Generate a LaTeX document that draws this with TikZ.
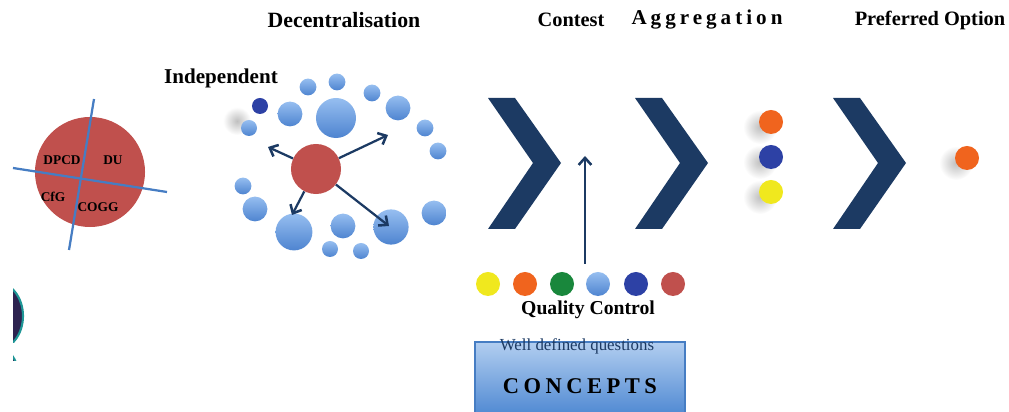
\documentclass[tikz,border=0pt]{standalone}
\usepackage{fontspec}
\setmainfont{Liberation Serif}
\newfontfamily\spacedfont[LetterSpace=19]{Liberation Serif}
\newfontfamily\conceptfont[LetterSpace=20]{Liberation Serif}
\usepackage{xcolor}
\usetikzlibrary{positioning, arrows.meta}
\definecolor{navy}{RGB}{28,58,99}
\definecolor{redball}{RGB}{192,80,77}
\definecolor{bluetop}{RGB}{150,190,240}
\definecolor{bluebot}{RGB}{78,132,208}
\definecolor{darkdot}{RGB}{45,65,165}
\definecolor{orangedot}{RGB}{240,100,30}
\definecolor{yellowdot}{RGB}{240,232,30}
\definecolor{greendot}{RGB}{25,135,60}
\definecolor{axisblue}{RGB}{70,125,195}
\definecolor{boxtop}{RGB}{178,206,240}
\definecolor{boxbot}{RGB}{78,136,210}
\definecolor{fragdark}{RGB}{45,35,80}
\definecolor{fragedge}{RGB}{30,150,150}
\tikzset{
    heading/.style={font=\fontsize{15}{18}\selectfont\bfseries, text=black, inner sep=0pt},
    quarter/.style={font=\fontsize{9.5}{11}\selectfont\bfseries, inner sep=0pt},
    bubble/.style={circle, inner sep=0pt, minimum size=#1, top color=bluetop, bottom color=bluebot, draw=none},
    dot/.style={circle, inner sep=0pt, minimum size=0.6cm, fill=#1, draw=none},
    softshadow/.style={circle, inner sep=0pt, minimum size=#1, inner color=gray!50, outer color=white},
    flow/.style={->, >={Straight Barb[length=5pt, width=9pt, line width=1.8pt]}, color=navy, line width=1.6pt},
    chevron/.style={fill=navy, draw=none},
    axis/.style={axisblue, line width=1.6pt}
}

\begin{document}
\begin{tikzpicture}[x=0.025cm, y=-0.025cm]
    \useasboundingbox (0,0) rectangle (1009,412);

    % Headings
    \node[heading, font=\fontsize{15.5}{18}\selectfont\bfseries] (hdecent) at (344,20) {Decentralisation};
    \node[heading, font=\fontsize{14.5}{17}\selectfont\bfseries] (hcontest) at (571,20) {Contest};
    \node[heading] (haggr) at (707,20) {\spacedfont\bfseries Aggregation};
    \node[heading, font=\fontsize{14.5}{17}\selectfont\bfseries] (hpref) at (930,20) {Preferred Option};

    % Left edge fragment
    \begin{scope}
        \clip (13,286) rectangle (40,343);
        \fill[fragdark, draw=fragedge, line width=1.5pt] (-4,316) ellipse [x radius=27, y radius=34];
    \end{scope}
    \begin{scope}
        \clip (13,346) rectangle (40,361);
        \fill[fragdark, draw=fragedge, line width=1.5pt] (-2,374) ellipse [x radius=20, y radius=26];
    \end{scope}

    % Council circle
    \node[circle, fill=redball, minimum size=2.75cm, inner sep=0pt] (council) at (90,172) {};
    \draw[axis] (13,168) -- (167,192);
    \draw[axis] (94,99) -- (69,250);
    \node[quarter] (dpcd) at (62,160) {DPCD};
    \node[quarter] (du) at (113,160) {DU};
    \node[quarter] (cfg) at (53,197) {CfG};
    \node[quarter] (cogg) at (98,207) {COGG};

    % Decentralisation cluster
    \node[heading] (indep) at (221,78) {Independent};
    \node[softshadow=0.7cm] (blur) at (237,121) {};
    \node[dot=darkdot, minimum size=0.4cm] (seed) at (260,106) {};
    \foreach \x/\y/\d [count=\i] in {308/87/0.42, 337/82/0.42, 372/93/0.42, 290/114/0.62,
        336/118/1.0, 398/108/0.62, 249/128/0.4, 425/128/0.42, 438/151/0.42, 243/186/0.42,
        255/209/0.62, 294/232/0.92, 343/226/0.62, 391/227/0.88, 434/213/0.62, 330/249/0.4, 361/251/0.4}
        \node[bubble=\d cm] (b\i) at (\x,\y) {};
    \node[circle, fill=redball, minimum size=1.25cm, inner sep=0pt] (hub) at (316,169) {};
    \coordinate (tipnw) at (268,147);
    \coordinate (tipne) at (388,135);
    \coordinate (tipsw) at (292,215);
    \coordinate (tipse) at (389,226);
    \draw[flow] (hub) -- (tipnw);
    \draw[flow] (hub) -- (tipne);
    \draw[flow] (hub) -- (tipsw);
    \draw[flow] (hub) -- (tipse);

    % Chevrons
    \foreach \dx in {0,147,345}
        \fill[chevron] (488+\dx,98) -- (515+\dx,98) -- (561+\dx,163) -- (515+\dx,229)
            -- (488+\dx,229) -- (533+\dx,163) -- cycle;

    % Quality control
    \coordinate (qcbase) at (585,264);
    \coordinate (qctip) at (585,156);
    \draw[flow] (qcbase) -- (qctip);
    \node[dot=yellowdot] (qyellow) at (488,284) {};
    \node[dot=orangedot] (qorange) at (525,284) {};
    \node[dot=greendot] (qgreen) at (562,284) {};
    \node[bubble=0.6cm] (qlight) at (598,284) {};
    \node[dot=darkdot] (qblue) at (636,284) {};
    \node[dot=redball] (qred) at (673,284) {};
    \node[heading, font=\fontsize{14}{16}\selectfont\bfseries] (qc) at (588,310) {Quality Control};

    % Concepts box
    \node[draw=axisblue, thick, top color=boxtop, bottom color=boxbot, minimum width=5.25cm,
        minimum height=1.85cm, inner sep=0pt] (concepts) at (580,379) {};
    \node[font=\fontsize{12}{14}\selectfont, text=navy, inner sep=0pt] (welldef) at (577,346) {Well defined questions};
    \node[font=\fontsize{16}{18}\selectfont\conceptfont\bfseries, inner sep=0pt] (ctext) at (580,386) {CONCEPTS};

    % Aggregation
    \node[softshadow=0.85cm] (shorange) at (760,127) {};
    \node[softshadow=0.85cm] (shblue) at (760,162) {};
    \node[softshadow=0.85cm] (shyellow) at (760,197) {};
    \node[dot=orangedot] (aorange) at (771,122) {};
    \node[dot=darkdot] (ablue) at (771,157) {};
    \node[dot=yellowdot] (ayellow) at (771,192) {};

    % Preferred option
    \node[softshadow=0.85cm] (shpref) at (956,163) {};
    \node[dot=orangedot] (pref) at (967,158) {};
\end{tikzpicture}
\end{document}
